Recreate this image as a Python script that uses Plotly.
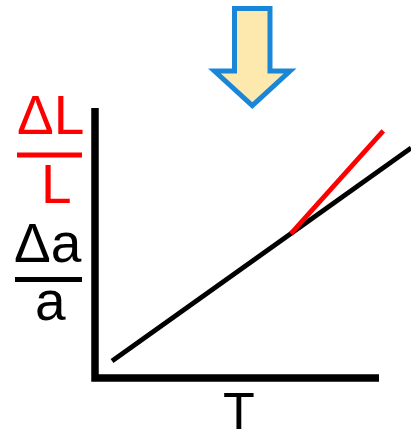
import plotly.graph_objects as go

# Schematic: thermal expansion vs temperature
W, H = 411, 440

# Lattice-parameter expansion (black) and bulk length expansion (red)
T_lattice = [0.6, 11.13]
lattice_exp = [0.63, 8.52]
T_bulk = [6.9, 10.15]
bulk_exp = [5.35, 9.15]

# Axis extents of the schematic
T_axis = [0, 10]
y_axis_top = 10

# Data ranges chosen so the whole canvas is the plotting area
x_range = [-3.345, 11.127]
y_range = [-2.296, 14.0]


def px(x):
    return x / W


def py(y):
    return (H - y) / H


fig = go.Figure()

fig.add_trace(go.Scatter(
    x=T_lattice, y=lattice_exp, mode="lines",
    line=dict(color="black", width=4.8), hoverinfo="skip", showlegend=False,
))
fig.add_trace(go.Scatter(
    x=T_bulk, y=bulk_exp, mode="lines",
    line=dict(color="#ff0000", width=4.8), hoverinfo="skip", showlegend=False,
))

shapes = []
# L-shaped axes
shapes.append(dict(
    type="path", xref="x", yref="y",
    path=f"M {T_axis[0]},{y_axis_top} L {T_axis[0]},0 L {T_axis[1]},0",
    line=dict(color="black", width=7.5), fillcolor="rgba(0,0,0,0)",
))

# Down arrow at the top
arrow_pts = [(234.5, 8.5), (270, 8.5), (270, 71), (290, 71),
             (252.3, 105.5), (214.5, 71), (234.5, 71)]
arrow_path = "M " + " L ".join(f"{px(x):.5f},{py(y):.5f}" for x, y in arrow_pts) + " Z"
shapes.append(dict(
    type="path", xref="paper", yref="paper", path=arrow_path,
    fillcolor="#fde9ae", line=dict(color="#1a86d8", width=5),
))

# Fraction bars
shapes.append(dict(type="line", xref="paper", yref="paper",
                   x0=px(17), x1=px(82), y0=py(155), y1=py(155),
                   line=dict(color="#ff0000", width=5)))
shapes.append(dict(type="line", xref="paper", yref="paper",
                   x0=px(15), x1=px(82), y0=py(279.5), y1=py(279.5),
                   line=dict(color="black", width=5)))

font_family = "Liberation Sans, Arial, sans-serif"
annotations = []


def label(text, x, y, color, size=55):
    annotations.append(dict(
        text=text, x=px(x), y=py(y), xref="paper", yref="paper",
        xanchor="center", yanchor="middle", showarrow=False,
        font=dict(family=font_family, size=size, color=color),
    ))


label("ΔL", 50, 115, "#ff0000")
label("L", 56, 184, "#ff0000")
label("Δa", 48, 243, "black")
label("a", 50, 301, "black")
label("T", 238.5, 411, "black", size=52)

fig.update_layout(
    width=W, height=H,
    margin=dict(l=0, r=0, t=0, b=0),
    paper_bgcolor="white", plot_bgcolor="white",
    xaxis=dict(range=x_range, domain=[0, 1], visible=False, fixedrange=True),
    yaxis=dict(range=y_range, domain=[0, 1], visible=False, fixedrange=True),
    shapes=shapes, annotations=annotations,
)

fig.write_html("out.html")
